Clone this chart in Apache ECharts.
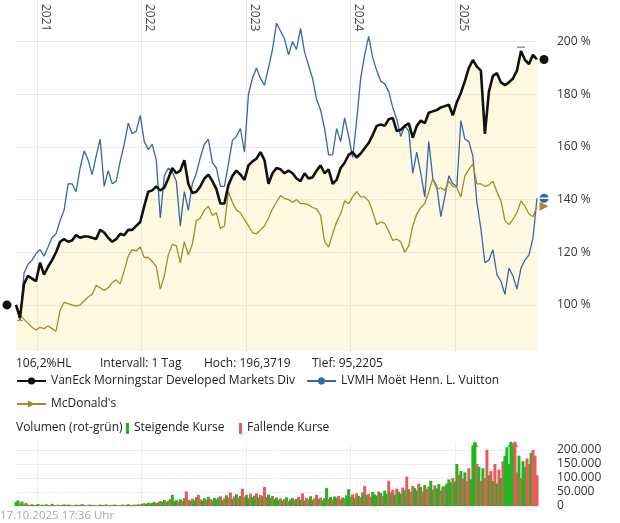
<!DOCTYPE html>
<html>
<head>
<meta charset="utf-8">
<script src="https://cdn.jsdelivr.net/npm/echarts@6/dist/echarts.min.js"></script>
<style>html,body{margin:0;padding:0;background:#fff;}</style>
</head>
<body>
<div id="chart" style="width:620px;height:523px;"></div>
<script>
// Stützstellen: Kurse alle 14 Tage, Volumen wöchentlich
var startDate = '2020-10-19';
var stepDays = 14;
var volStepDays = 7;

var yearTicks = ['2021-01-01', '2022-01-01', '2023-01-01', '2024-01-01', '2025-01-01'];
var pctTicks = [100, 120, 140, 160, 180, 200];
var volTicks = [0, 50000, 100000, 150000, 200000];

var names = ['VanEck Morningstar Developed Markets Div', 'LVMH Moët Henn. L. Vuitton', "McDonald's"];

// Kurs in % (Start = 100)
var vaneck = [100,95.2,108,111,110,109,116,111.5,114.5,117,
  120,124,125,124,124.5,126.5,125.5,126,126,125.5,
  125,128.5,127.5,125.5,124,125,127,126.5,128.5,128.5,
  130,131.5,137.5,143,143.5,145,143.5,144.5,148,152,
  150,151,155,146,142.5,143,145,148,149.5,147,
  144,138.5,138.5,145.5,149,151,149.5,147.5,153,154.5,
  155.5,158,155,146,150,152,151.5,150,151,150,
  148,147,150,148,148.5,151,153,150,151.5,146,
  147.5,152,154,157,158,156,157.5,159.5,161.5,164.5,
  168,168.5,168,170.5,171,166,166.5,168,169,163.5,
  168,170,169,173,173.5,174,175,175.5,176,172,
  177,180.5,185,190,193,190.5,189,165,181,187,
  188,184.5,183.5,184.5,186,189,196.4,193,191.5,195,
  193.2];
var lvmh = [100,94,112,115.5,117,119.5,121,118.5,122,125.5,
  127,132,136,146,146,143,152,158.5,155,149.5,
  156.5,163,145,151,146,147,154.5,161,169,165,
  166,172,162,159,161,155,133,149,152,150.5,
  147,130,143,136,146,150,156,161,163,154,
  152,145,145,153.5,162.5,164,167,158,180,186,
  190,186,183.5,190,197,207,204,201,195,200,
  197,205,196,191,186,178,174,167,157,157,
  167,162,171,164,156,170,186,195,202,194,
  189,185,184,181,175,170.5,164,168,166,150,
  158,150,141,162,148,145,133.5,141,149,146,
  145,170,163,162,156.5,139,129,116,117,121,
  111.5,109,104,114,111,106,114,117,119,125.5,
  140.5];
var mcd = [100,96,94.5,93,91.5,90.5,91.5,91,92,91,
  90,98,101,100.5,100,99.5,100,101.5,103,104,
  107.5,106.5,105.5,106.5,108.5,109.5,108,113,118.5,121,
  120.5,122,118,118,116.5,114.5,106,111,119,123,
  122.5,116,124,119,123,132,133,136,137.5,134,
  135,129,130,143,139,136,135,132.5,130,127.5,
  127,128.5,130,133,136.5,139,141.5,140.5,140,139,
  140,138.5,138.5,138,137,136.5,134,124,122,127,
  131.5,134.5,139.5,138.5,141,143,141,141,139.5,135.5,
  130.5,131.5,131,128,124.5,125,124,120,122.5,130,
  134.5,137,138.5,143,148,144,144.5,143.5,147,145,
  144.5,141,149,151.5,153.5,146,146,145,145.5,147,
  143,139.5,132,130.5,132.5,135,139.5,137.5,134.5,133.5,
  137.5];

// Volumen in Tausend Stück, wöchentlich
var volume = [14,20,9,16,6,11,5,4,6,3,
  4,7,3,5,2,6,4,3,8,4,
  3,5,2,4,6,3,5,4,2,3,
  5,3,4,7,3,2,4,5,3,4,
  2,3,5,4,3,6,2,4,3,5,
  4,2,3,5,4,3,6,4,3,5,
  4,6,5,8,10,7,12,9,11,14,
  10,13,18,15,22,14,19,25,40,17,
  21,16,24,19,28,52,22,18,26,20,
  31,40,24,19,28,22,33,25,20,29,
  23,30,35,21,27,38,30,48,26,34,
  42,29,36,62,33,40,28,44,31,37,
  45,30,39,35,68,32,41,29,36,25,
  30,22,27,19,25,31,18,24,28,21,
  26,33,23,45,20,29,24,35,22,27,
  40,25,30,21,28,64,26,32,23,34,
  29,36,24,30,27,38,60,33,42,28,
  45,36,31,48,72,39,44,33,50,41,
  37,52,46,35,55,43,90,48,58,40,
  62,51,44,66,56,105,60,49,72,64,
  55,80,68,52,75,61,70,90,58,74,
  63,78,55,69,72,80,95,85,100,88,
  150,110,125,98,120,90,135,95,215,260,
  150,140,90,135,100,200,110,125,90,150,
  80,130,100,160,180,210,150,250,220,240,
  120,180,100,160,140,170,150,190,200,180,
  110];
// g = steigend, r = fallend
var volDir = 'ggrggrgrgg' + 'rgrgggrggr' + 'grrgrgggrg' + 'grgrggrgrg' + 'rggrgrggrg' +
  'grgrrggrgr' + 'ggrgrggrgg' + 'rgrggrgrgg' + 'grgrgrrgrg' + 'grrggrgrrg' +
  'ggrgrgrrgr' + 'grgrrggrgg' + 'rgrgrrggrg' + 'ggrgrgrggr' + 'grgrgrrggr' +
  'rgrgggrgrg' + 'grrgrgggrg' + 'rgrgrgrrgg' + 'grgrggrgrg' + 'rggrgrgrrg' +
  'grgrgrrggr' + 'ggrgrgggrg' + 'grgrgrrggg' + 'rgrgrrgrgr' + 'grgrgggggr' +
  'rgrggrrgrr' + 'r';

var DAY = 86400000;
var t0 = Date.parse(startDate + 'T00:00:00Z');
function tp(i) { return t0 + i * stepDays * DAY; }
function tv(w) { return t0 + w * volStepDays * DAY; }
var tEnd = tp(vaneck.length - 1);
var yearTs = yearTicks.map(function (s) { return Date.parse(s + 'T00:00:00Z'); });

function pairs(arr) { return arr.map(function (v, i) { return [tp(i), v]; }); }

var volMax = 228571;
var upColor = '#22b522', downColor = '#ea5a5c';
var volData = volume.map(function (v, w) {
  return { value: [tv(w), v * 1000], itemStyle: { color: volDir[w] === 'g' ? upColor : downColor } };
});
var volArrows = [];
volume.forEach(function (v, w) {
  if (v * 1000 > volMax) {
    volArrows.push({ value: [tv(w), volMax], itemStyle: { color: volDir[w] === 'g' ? upColor : downColor } });
  }
});

var FONT = '"Open Sans", "Noto Sans", sans-serif';
var last = vaneck.length - 1;
var ring = 'path://M0.06,4.2 A5,5 0 0 1 9.94,4.2 Z M0.06,5.8 A5,5 0 0 0 9.94,5.8 Z';

var chart = echarts.init(document.getElementById('chart'));
var option = {
  animation: false,
  textStyle: { fontFamily: FONT },
  grid: [
    { left: 16, right: 83, top: 0, bottom: 172 },
    { left: 16, right: 83, top: 442, bottom: 17 }
  ],
  legend: {
    left: 16, top: 375, width: 500, padding: 0,
    itemWidth: 29, itemHeight: 9, itemGap: 11,
    selectedMode: false,
    textStyle: { color: '#222', fontSize: 12, fontFamily: FONT },
    data: names
  },
  xAxis: [
    {
      type: 'value', gridIndex: 0, position: 'top', min: t0, max: tEnd,
      axisLine: { show: false },
      axisTick: { show: false, customValues: yearTs },
      splitLine: { show: true, lineStyle: { color: '#e8e8e8' } },
      axisLabel: {
        inside: true, rotate: 90, margin: 4, customValues: yearTs,
        verticalAlign: 'bottom', padding: [0, 0, 2, 0],
        color: '#444', fontSize: 12, fontFamily: FONT,
        formatter: function (v) { return String(new Date(v).getUTCFullYear()); }
      }
    },
    {
      type: 'value', gridIndex: 1, min: t0, max: tEnd,
      axisLine: { show: false },
      axisTick: { show: false, customValues: yearTs },
      axisLabel: { show: false },
      splitLine: { show: true, lineStyle: { color: '#ededed' } }
    }
  ],
  yAxis: [
    {
      type: 'value', gridIndex: 0, position: 'right', min: 82.5, max: 215.8,
      axisLine: { show: false },
      axisTick: { show: false, customValues: pctTicks },
      splitLine: { lineStyle: { color: '#e8e8e8' } },
      axisLabel: { customValues: pctTicks, formatter: '{value} %', margin: 20, color: '#333', fontSize: 12, fontFamily: FONT }
    },
    {
      type: 'value', gridIndex: 1, position: 'right', min: 0, max: volMax,
      axisLine: { show: false },
      axisTick: { show: false, customValues: volTicks },
      splitLine: { lineStyle: { color: '#ededed' } },
      axisLabel: {
        customValues: volTicks, margin: 20, color: '#333', fontSize: 12, fontFamily: FONT,
        formatter: function (v) { return v === 0 ? '0' : (v / 1000) + '.000'; }
      }
    }
  ],
  series: [
    {
      name: 'fill', type: 'line', data: pairs(vaneck), z: 1, silent: true,
      symbol: 'none', lineStyle: { width: 0 },
      areaStyle: { color: 'rgba(250,235,145,0.4)', origin: 'start' }
    },
    {
      name: names[1], type: 'line', data: pairs(lvmh), z: 3, silent: true,
      symbol: ring, showSymbol: false, color: '#3567ab',
      lineStyle: { color: '#3567ab', width: 1.3 },
      markPoint: {
        silent: true, label: { show: false },
        data: [{ coord: [tp(last), lvmh[last]], symbol: ring, symbolSize: 9, symbolOffset: [7, 0], itemStyle: { color: '#3567ab' } }]
      }
    },
    {
      name: names[2], type: 'line', data: pairs(mcd), z: 4, silent: true,
      symbol: 'triangle', symbolRotate: -90, showSymbol: false, color: '#a38b2b',
      lineStyle: { color: '#a38b2b', width: 1.3 },
      markPoint: {
        silent: true, label: { show: false },
        data: [{ coord: [tp(last), mcd[last]], symbol: 'triangle', symbolRotate: -90, symbolSize: 9, symbolOffset: [7, 0], itemStyle: { color: '#a38b2b' } }]
      }
    },
    {
      name: names[0], type: 'line', data: pairs(vaneck), z: 5, silent: true,
      symbol: 'circle', showSymbol: false, color: '#111',
      lineStyle: { color: '#111', width: 2.6 },
      markPoint: {
        silent: true, label: { show: false },
        data: [
          { coord: [tp(0), vaneck[0]], symbol: 'circle', symbolSize: 9, symbolOffset: [-9, 0], itemStyle: { color: '#111' } },
          { coord: [tp(last), vaneck[last]], symbol: 'circle', symbolSize: 9, symbolOffset: [7, 0], itemStyle: { color: '#111' } },
          { coord: [tp(126), 196.4], symbol: 'rect', symbolSize: [8, 1], symbolOffset: [0, -4], itemStyle: { color: '#555' } },
          { coord: [tp(1), 95.2], symbol: 'rect', symbolSize: [6, 1], symbolOffset: [0, 3], itemStyle: { color: '#b08a3a' } }
        ]
      }
    },
    {
      name: 'Volumen', type: 'bar', xAxisIndex: 1, yAxisIndex: 1, data: volData,
      barWidth: 3, silent: true
    },
    {
      name: 'Volumen max', type: 'scatter', xAxisIndex: 1, yAxisIndex: 1, data: volArrows,
      symbol: 'triangle', symbolSize: [7, 6], symbolOffset: [0, 2], clip: false, silent: true, z: 6
    }
  ],
  graphic: {
    elements: [
      { type: 'text', x: 16, y: 364, style: { text: '106,2%HL', fill: '#222', font: '12px ' + FONT, verticalAlign: 'middle' } },
      { type: 'text', x: 100, y: 364, style: { text: 'Intervall: 1 Tag', fill: '#222', font: '12px ' + FONT, verticalAlign: 'middle' } },
      { type: 'text', x: 204, y: 364, style: { text: 'Hoch: 196,3719', fill: '#222', font: '12px ' + FONT, verticalAlign: 'middle' } },
      { type: 'text', x: 312, y: 364, style: { text: 'Tief: 95,2205', fill: '#222', font: '12px ' + FONT, verticalAlign: 'middle' } },
      { type: 'text', x: 16, y: 428, style: { text: 'Volumen (rot-grün)', fill: '#222', font: '12px ' + FONT, verticalAlign: 'middle' } },
      { type: 'rect', shape: { x: 126, y: 423, width: 3, height: 11 }, style: { fill: upColor } },
      { type: 'text', x: 134, y: 428, style: { text: 'Steigende Kurse', fill: '#222', font: '12px ' + FONT, verticalAlign: 'middle' } },
      { type: 'rect', shape: { x: 239, y: 423, width: 3, height: 11 }, style: { fill: downColor } },
      { type: 'text', x: 247, y: 428, style: { text: 'Fallende Kurse', fill: '#222', font: '12px ' + FONT, verticalAlign: 'middle' } },
      { type: 'text', x: 0, y: 516, style: { text: '17.10.2025 17:36 Uhr', fill: '#aaa', font: '11.5px ' + FONT, verticalAlign: 'middle' } }
    ]
  }
};
chart.setOption(option);
</script>
</body>
</html>
